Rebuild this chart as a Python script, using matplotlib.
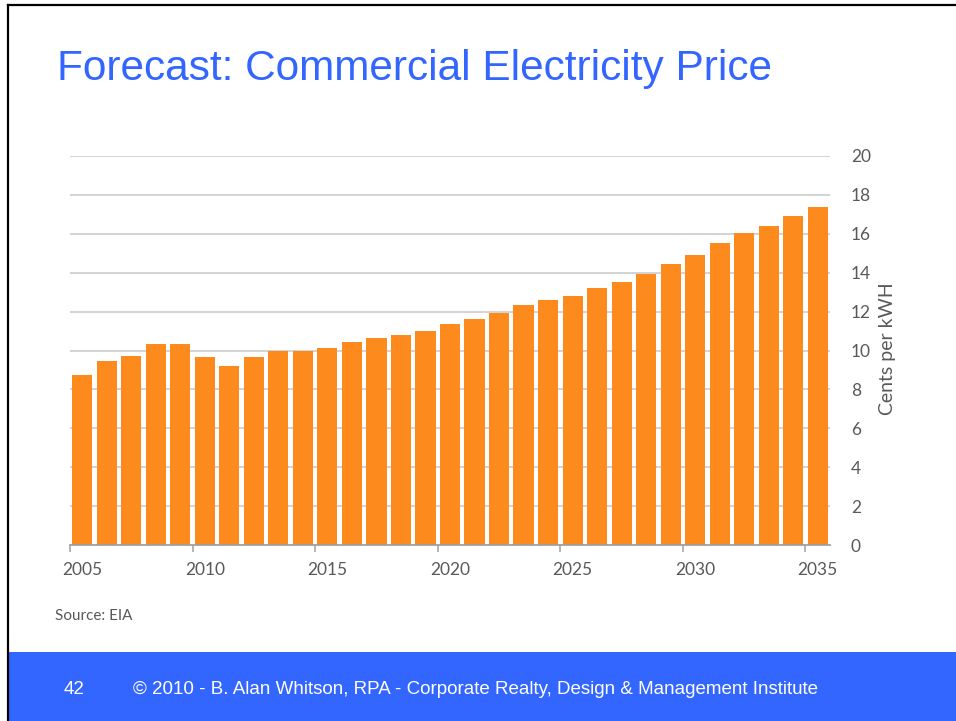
import matplotlib

matplotlib.use("Agg")

import matplotlib.pyplot as plt
import numpy as np
from matplotlib.lines import Line2D
from matplotlib.patches import Rectangle

years = list(range(2005, 2036))
price_cents = [
    8.74, 9.46, 9.72, 10.33, 10.33, 9.67, 9.20, 9.67, 9.97, 9.97,
    10.13, 10.44, 10.64, 10.80, 11.00, 11.36, 11.62, 11.93, 12.34, 12.60,
    12.80, 13.21, 13.52, 13.93, 14.45, 14.91, 15.53, 16.04, 16.40, 16.92,
    17.38,
]
label_years = [2005, 2010, 2015, 2020, 2025, 2030, 2035]
y_ticks = list(range(0, 21, 2))

BLUE = "#3366ff"
ORANGE = "#fd8a1c"
GREY_TEXT = "#595959"
W, H = 956, 721

fig = plt.figure(figsize=(W / 100, H / 100), dpi=100)
fig.patch.set_facecolor("white")

# slide frame: black border on top and left, blue footer band
fig.add_artist(Line2D([8 / W, 1], [1 - 5 / H, 1 - 5 / H], color="black", lw=1.6))
fig.add_artist(Line2D([8 / W, 8 / W], [0, 1 - 5 / H], color="black", lw=1.6))
fig.add_artist(Rectangle((9 / W, 0), 1 - 9 / W, 69 / H, transform=fig.transFigure,
                         facecolor=BLUE, edgecolor="none"))

fig.text(57 / W, 1 - 80 / H, "Forecast: Commercial Electricity Price",
         family="Liberation Sans", fontsize=30.5, color=BLUE, va="baseline", ha="left")

ax = fig.add_axes([70 / W, 1 - 545 / H, 760 / W, 389 / H])
x = np.arange(len(years)) + 0.5
ax.bar(x, price_cents, width=0.82, color=ORANGE, zorder=2)

ax.set_xlim(0, len(years))
ax.set_ylim(0, 20)

# y axis on the right, light grid
ax.yaxis.tick_right()
ax.set_yticks(y_ticks)
ax.set_yticklabels([str(v) for v in y_ticks], family="Lato", fontsize=12.5, color=GREY_TEXT)
ax.tick_params(axis="y", length=0, pad=15)
for v in y_ticks[1:]:
    ax.axhline(v, color="#c8c8c8", lw=1.1, zorder=1)

# ticks between bars, labels under the bar centres
idx = [years.index(y) for y in label_years]
ax.set_xticks(idx)
ax.set_xticklabels([])
ax.tick_params(axis="x", which="major", length=5, width=1.1, color="#a0a0a0")
ax.set_xticks([i + 0.5 for i in idx], minor=True)
ax.set_xticklabels([str(y) for y in label_years], minor=True,
                   family="Lato", fontsize=12.5, color=GREY_TEXT)
ax.tick_params(axis="x", which="minor", length=0, pad=12)

for side in ["top", "left", "right"]:
    ax.spines[side].set_visible(False)
ax.spines["bottom"].set_color("#a0a0a0")
ax.spines["bottom"].set_linewidth(1.3)
ax.spines["bottom"].set_zorder(3)

fig.text(888 / W, 1 - 349 / H, "Cents per kWH", rotation=90, ha="center", va="center",
         family="Lato", fontsize=14, color=GREY_TEXT)

fig.text(55 / W, 1 - 616 / H, "Source: EIA", family="Lato", fontsize=11,
         color=GREY_TEXT, ha="left", va="center")

fig.text(74 / W, 1 - 689 / H, "42", family="Liberation Sans", fontsize=13.5,
         color="white", ha="center", va="center")
fig.text(133 / W, 1 - 689 / H,
         "\u00a9 2010 - B. Alan Whitson, RPA - Corporate Realty, Design & Management Institute",
         family="Liberation Sans", fontsize=13.5, color="white", ha="left", va="center")

fig.savefig("out.png", dpi=100)
plt.close(fig)
